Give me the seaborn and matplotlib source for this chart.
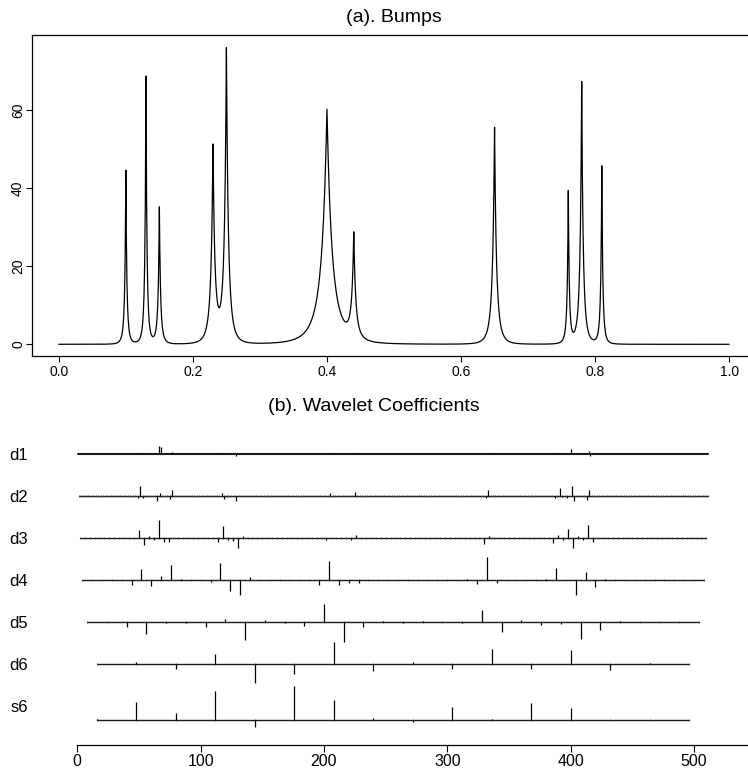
import numpy as np
import matplotlib
matplotlib.use("Agg")
import matplotlib.pyplot as plt
import seaborn as sns

# (a) Bumps: peak locations, peak heights, peak widths
bump_pos = [0.10, 0.13, 0.15, 0.23, 0.25, 0.40, 0.44, 0.65, 0.76, 0.78, 0.81]
bump_height = [44.6, 68.7, 35.2, 51.3, 76.0, 60.2, 28.8, 55.6, 39.4, 67.3, 45.7]
bump_width = [0.0055, 0.0055, 0.0065, 0.011, 0.011, 0.03, 0.011, 0.011, 0.0055, 0.0085, 0.0055]
n_samples = 1024

# (b) wavelet coefficients: {position: value} for the visible spikes of each level
d1 = {51: 1, 66.5: 8, 67.5: 7, 77: 2, 118: 1.5, 129: -2, 206: 1, 226.5: 1.5,
      334: 1, 390.5: 1, 400.5: 5, 414.5: 3, 415.5: -2}
d2 = {49: -2, 51: 10, 53: -2, 65: -5, 67: 3, 75: -3, 77: 6, 117: 3, 119: -3,
      129: -5, 205: 3, 225: 4, 331: -2, 333: 6, 387: -2, 391: 8, 393: -1,
      397: -2, 401: 10, 403: -5, 413: -4, 415: 6}
d3 = {50: 8, 54: -7, 58: 2, 62: -2, 66: 18, 70: -4, 74: -4, 114: -4, 118: 12,
      122: -2, 126: -3, 130: -10, 134: 2, 202: -2, 222: -2, 226: 3, 330: -6,
      334: 2, 386: -5, 390: 3, 394: -2, 398: 9, 402: -10, 406: 2, 410: -2,
      414: 13, 418: -4}
d4 = {44: -5, 52: 11, 60: -6, 68: 4, 76: 15, 84: 1, 108: -2, 116: 17, 124: -11,
      132: -15, 140: 3, 196: -5, 204: 19, 212: -5, 220: -3, 228: -3, 316: 1,
      324: -4, 332: 23, 340: -3, 380: 1, 388: 12, 404: -15, 412: 8, 420: -7,
      428: 1}
d5 = {40: -5, 56: -12, 72: -1, 88: -1, 104: -5, 120: 3, 136: -18, 152: 2,
      168: -1, 184: -4, 200: 18, 216: -20, 232: -5, 248: 1, 264: -1, 280: 1,
      312: -1, 328: 12, 344: -10, 360: 2, 376: -3, 392: -2, 408: -17, 424: -8,
      440: 1}
d6 = {48: 2, 80: -5, 112: 10, 144: -19, 176: -10, 208: 22, 240: -7, 272: 2,
      304: -5, 336: 15, 368: -5, 400: 14, 432: -6, 464: 1}
s6 = {16: 1, 48: 18, 80: 7, 112: 29, 144: -7, 176: 34, 208: 20, 240: 2,
      272: -2, 304: 13, 336: 1, 368: 17, 400: 12}

level_names = ["d1", "d2", "d3", "d4", "d5", "d6", "s6"]
level_coefs = [d1, d2, d3, d4, d5, d6, s6]
# first position, spacing, count of coefficients per level
level_start = [0.5, 1, 2, 4, 8, 16, 16]
level_step = [1, 2, 4, 8, 16, 32, 32]
level_count = [512, 256, 128, 64, 32, 16, 16]
label_y = [0, -42, -84, -126, -168, -210, -252]
base_y = [0, -42, -84, -126, -168, -210, -266]

sns.set_theme(style="white")
plt.rcParams["font.family"] = ["Liberation Sans", "DejaVu Sans"]
plt.rcParams["text.color"] = "black"

W, H = 748, 773
fig = plt.figure(figsize=(W / 100, H / 100), dpi=100)

# ---- (a) Bumps ----
def kern(u):
    return (1 + np.abs(u)) ** -4

pos = np.array(bump_pos)
wid = np.array(bump_width)
M = kern((pos[:, None] - pos[None, :]) / wid[None, :])
amps = np.linalg.solve(M, np.array(bump_height))
t = np.union1d(np.linspace(0, 1, n_samples), pos)
f = (amps[None, :] * kern((t[:, None] - pos[None, :]) / wid[None, :])).sum(axis=1)

ax1 = fig.add_axes([32 / W, (H - 356) / H, 724 / W, 321 / H])
sns.lineplot(x=t, y=f, ax=ax1, color="black", linewidth=0.9)
ax1.set_xlim(-0.04, 1.04)
ax1.set_ylim(-3.0, 79.2)
for s in ax1.spines.values():
    s.set_color("black")
    s.set_linewidth(0.9)
ax1.set_xticks([0, 0.2, 0.4, 0.6, 0.8, 1.0])
ax1.set_xticklabels(["0.0", "0.2", "0.4", "0.6", "0.8", "1.0"])
ax1.set_yticks([0, 20, 40, 60])
ax1.set_yticklabels(["0", "20", "40", "60"], rotation=90, va="center")
ax1.tick_params(direction="out", length=4.5, width=0.8, labelsize=10, pad=2,
                colors="black", bottom=True, left=True)
ax1.tick_params(axis="y", pad=0.5)
fig.text(394 / W, 1 - 21.7 / H, "(a). Bumps", ha="center", va="baseline", fontsize=14)

# ---- (b) Wavelet coefficients ----
ax2 = fig.add_axes([52.6 / W, (H - 745) / H, (W - 52.6) / W, 315 / H])
for name, coefs, st, stp, cnt, yb in zip(level_names, level_coefs, level_start,
                                         level_step, level_count, base_y):
    xs = st + stp * np.arange(cnt)
    lw = 1.5 if stp == 1 else 1.0
    sns.lineplot(x=[xs[0], xs[-1]], y=[yb, yb], ax=ax2, color="0.1", linewidth=lw)
    if stp > 1:
        ax2.vlines(xs, yb - 1.2, yb + 1.2, color="0.3", linewidth=0.6)
    px = list(coefs.keys())
    pv = list(coefs.values())
    ax2.vlines(px, yb, [yb + v for v in pv], color="black", linewidth=0.9)

ax2.set_xlim(-20, 543.7)
ax2.set_ylim(-291, 24)
for side in ["top", "right", "left"]:
    ax2.spines[side].set_visible(False)
ax2.spines["bottom"].set_color("black")
ax2.spines["bottom"].set_linewidth(0.9)
ax2.spines["bottom"].set_bounds(0, 543.7)
ax2.set_xticks([0, 100, 200, 300, 400, 500])
ax2.tick_params(axis="x", direction="out", length=5, width=0.8, labelsize=11.5,
                pad=1.5, colors="black", bottom=True)
ax2.set_yticks(label_y)
ax2.set_yticklabels(level_names)
ax2.tick_params(axis="y", length=0, labelsize=12, pad=18, colors="black")
fig.text(374 / W, 1 - 411 / H, "(b). Wavelet Coefficients", ha="center",
         va="baseline", fontsize=14)

fig.savefig("out.png", dpi=100)
